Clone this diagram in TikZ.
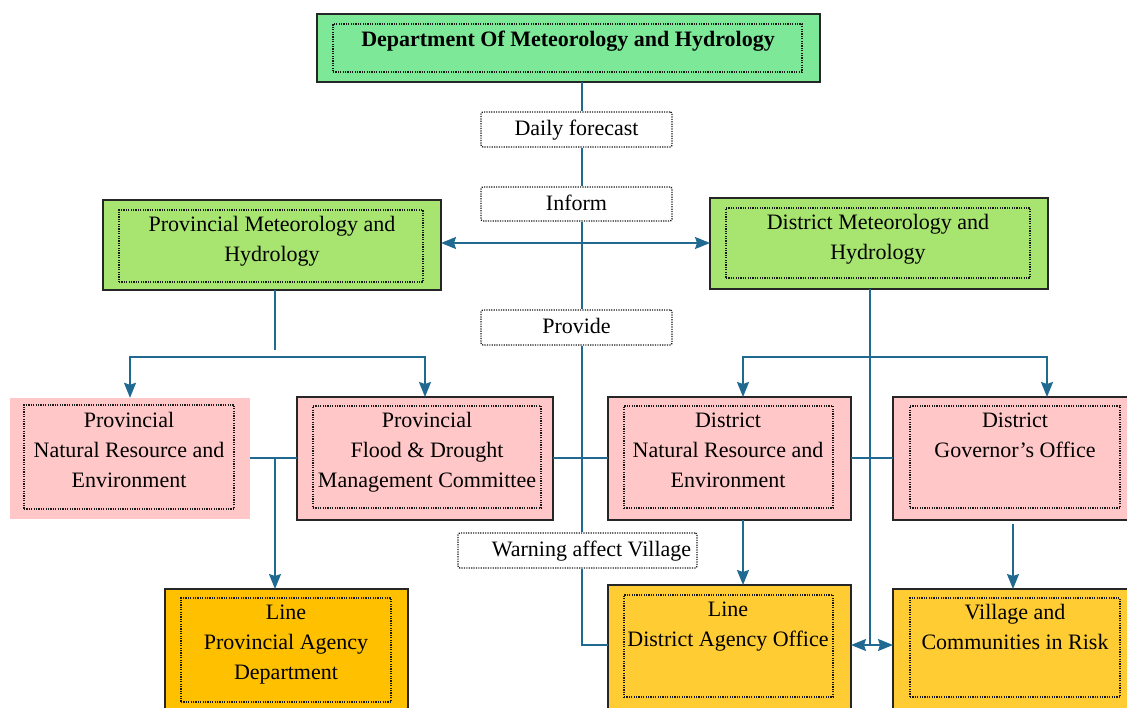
\documentclass[tikz,border=0pt]{standalone}
\usepackage{fontspec}
\setmainfont{Liberation Serif}
\usetikzlibrary{arrows.meta}
\definecolor{cTop}{RGB}{124,232,152}
\definecolor{cGreen}{RGB}{168,228,112}
\definecolor{cPink}{RGB}{255,199,199}
\definecolor{cOrange}{RGB}{255,192,0}
\definecolor{cYellow}{RGB}{255,204,51}
\definecolor{cLine}{RGB}{32,105,145}
\begin{document}
\begin{tikzpicture}[x=1pt,y=-1pt,
  ob/.style={draw=black!85, line width=1.8pt, inner sep=0pt, outer sep=0pt},
  ib/.style={draw=black!90, line width=1.3pt, dash pattern=on 1.2pt off 1.2pt, inner sep=0pt},
  tx/.style={font=\fontsize{22}{30}\selectfont, align=center, inner sep=0pt},
  lb/.style={draw=black!90, line width=1.3pt, dash pattern=on 1.2pt off 1.2pt, rounded corners=2pt, fill=white, inner sep=0pt, font=\fontsize{22}{30}\selectfont},
  ln/.style={draw=cLine, line width=1.7pt},
  arr/.style={ln, -{Stealth[length=15pt,width=12pt,inset=2pt]}},
  darr/.style={ln, {Stealth[length=15pt,width=12pt,inset=2pt]}-{Stealth[length=15pt,width=12pt,inset=2pt]}}]
\useasboundingbox (0,0) rectangle (1127,707);
\clip (0,0) rectangle (1127,707);

% top
\node[ob, fill=cTop, minimum width=503, minimum height=68] (top) at (568.5,48) {};
\node[ib, minimum width=469, minimum height=48] (topi) at (567.5,48) {};
\node[tx] (topt) at (568,40) {\strut\textbf{Department Of Meteorology and Hydrology}};

% green
\node[ob, fill=cGreen, minimum width=338, minimum height=90] (pmh) at (272,245) {};
\node[ib, minimum width=304, minimum height=72] (pmhi) at (271,246) {};
\node[tx] (pmht) at (272,240) {\strut Provincial Meteorology and\\Hydrology\strut};

\node[ob, fill=cGreen, minimum width=338, minimum height=91] (dmh) at (879,243.5) {};
\node[ib, minimum width=304, minimum height=70] (dmhi) at (878,243) {};
\node[tx] (dmht) at (878,238) {\strut District Meteorology and\\Hydrology\strut};

% pink row
\node[fill=cPink, inner sep=0pt, minimum width=240, minimum height=121] (pnre) at (130,458.5) {};
\node[ib, minimum width=210, minimum height=104] (pnrei) at (129,457) {};
\node[tx] (pnret) at (129,451) {\strut Provincial\\Natural Resource and\\Environment\strut};

\node[ob, fill=cPink, minimum width=256, minimum height=123] (pfd) at (425,458.5) {};
\node[ib, minimum width=228, minimum height=102] (pfdi) at (427,457) {};
\node[tx] (pfdt) at (427,451) {\strut Provincial\\Flood \& Drought\\Management Committee\strut};

\node[ob, fill=cPink, minimum width=243, minimum height=123] (dnre) at (729.5,458.5) {};
\node[ib, minimum width=209, minimum height=102] (dnrei) at (728.5,457) {};
\node[tx] (dnret) at (728,451) {\strut District\\Natural Resource and\\Environment\strut};

\node[ob, fill=cPink, minimum width=247, minimum height=123] (dgo) at (1016.5,458.5) {};
\node[ib, minimum width=210, minimum height=102] (dgoi) at (1015,457) {};
\node[tx] (dgot) at (1015,436) {\strut District\\Governor’s Office\strut};

% bottom row
\node[ob, fill=cOrange, minimum width=243, minimum height=131] (lpad) at (286.5,654.5) {};
\node[ib, minimum width=210, minimum height=104] (lpadi) at (286,650) {};
\node[tx] (lpadt) at (286,643) {\strut Line\\Provincial Agency\\Department\strut};

\node[ob, fill=cYellow, minimum width=243, minimum height=135] (ldao) at (729.5,652.5) {};
\node[ib, minimum width=209, minimum height=102] (ldaoi) at (728.5,646) {};
\node[tx] (ldaot) at (728,625) {\strut Line\\District Agency Office\strut};

\node[ob, fill=cYellow, minimum width=247, minimum height=131] (vcr) at (1016.5,654.5) {};
\node[ib, minimum width=210, minimum height=99] (vcri) at (1015,647.5) {};
\node[tx] (vcrt) at (1015,628) {\strut Village and\\Communities in Risk\strut};

% label boxes
\node[lb, minimum width=191, minimum height=35] (df) at (576.5,129.5) {\strut Daily forecast};
\node[lb, minimum width=191, minimum height=34] (inf) at (576.5,204) {\strut Inform};
\node[lb, minimum width=191, minimum height=35] (prov) at (576.5,327.5) {\strut Provide};
\node[lb, minimum width=239, minimum height=35] (warn) at (577.5,550.5) {};
\node[tx] (warnt) at (591.5,550) {\strut Warning affect Village};

% helper coordinates
\coordinate (sp) at (582,0);
\coordinate (a243) at (0,243);
\coordinate (c350) at (0,350);
\coordinate (ldx) at (275,0);
\coordinate (pb) at (275,357);
\coordinate (db) at (870,357);
\coordinate (vx) at (870,0);
\coordinate (dnx) at (743,0);
\coordinate (dgx) at (1047,0);
\coordinate (h458) at (0,458);
\coordinate (r645) at (0,645);
\coordinate (g524) at (1013,524);

% spine
\draw[ln] (top.south -| sp) -- (df.north -| sp);
\draw[ln] (df.south -| sp) -- (inf.north -| sp);
\draw[ln] (inf.south -| sp) -- (prov.north -| sp);
\draw[ln] (prov.south -| sp) -- (warn.north -| sp);
\draw[ln] (warn.south -| sp) |- (ldao.west |- r645);

% double arrow between meteorology offices
\draw[darr] (pmh.east |- a243) -- (dmh.west |- a243);

% provincial side
\draw[ln] (ldx |- pmh.south) -- (ldx |- c350);
\draw[arr] (pb) -| (pnre.north);
\draw[arr] (pb) -| (pfd.north);
\draw[ln] (pnre.east |- h458) -- (pfd.west |- h458);
\draw[arr] (ldx |- h458) -- (ldx |- lpad.north);

% district side
\draw[ln] (vx |- dmh.south) -- (vx |- r645);
\draw[arr] (db) -| (dnx |- dnre.north);
\draw[arr] (db) -| (dgx |- dgo.north);
\draw[ln] (pfd.east |- h458) -- (dnre.west |- h458);
\draw[ln] (dnre.east |- h458) -- (dgo.west |- h458);
\draw[arr] (dnx |- dnre.south) -- (dnx |- ldao.north);
\draw[arr] (g524) -- (g524 |- vcr.north);
\draw[darr] (ldao.east |- r645) -- (vcr.west |- r645);
\end{tikzpicture}
\end{document}
